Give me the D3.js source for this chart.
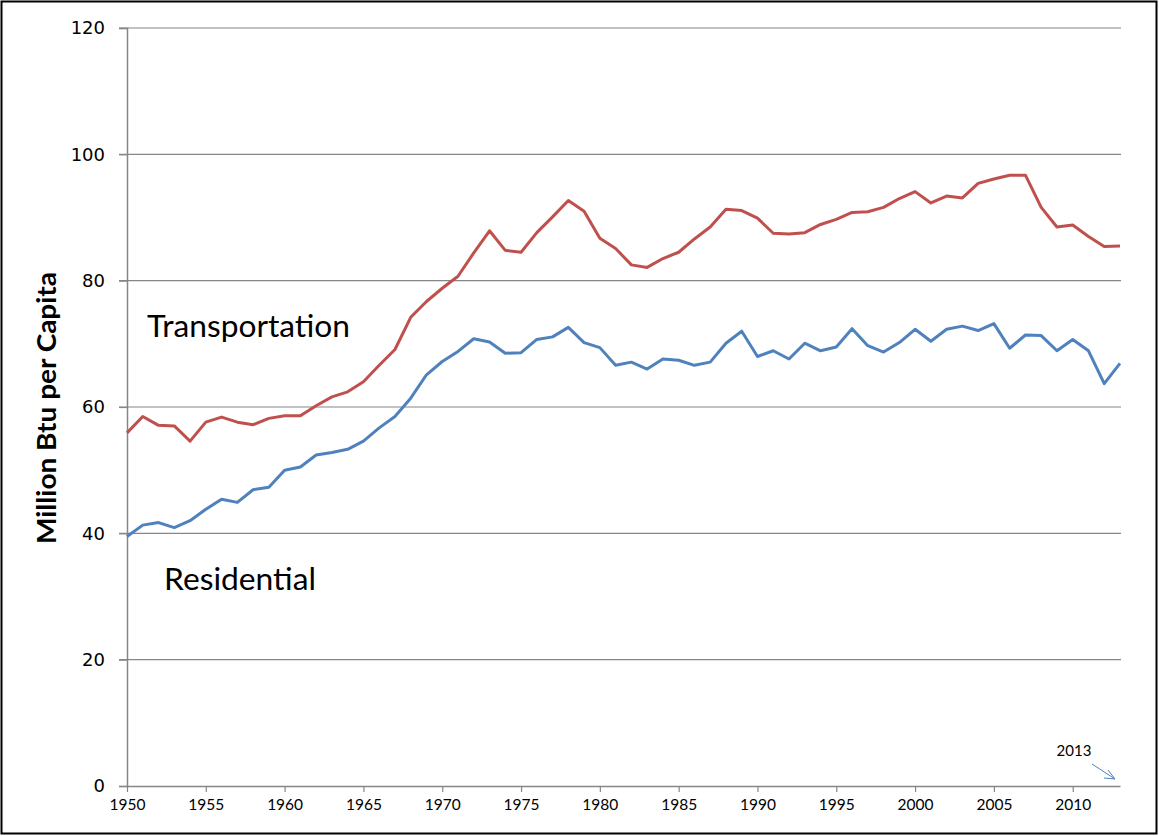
<!DOCTYPE html>
<html>
<head>
<meta charset="utf-8">
<script src="https://cdn.jsdelivr.net/npm/d3@7"></script>
<style>
  html, body { margin: 0; padding: 0; background: #fff; }
  svg { display: block; }
</style>
</head>
<body>
<svg id="chart" width="1159" height="836"></svg>
<script>
const years = d3.range(1950, 2014);
const transportation = [
  55.9, 58.5, 57.1, 57.0, 54.6, 57.6, 58.4, 57.6, 57.2, 58.2,
  58.6, 58.6, 60.2, 61.6, 62.4, 64.0, 66.6, 69.1, 74.2, 76.7,
  78.8, 80.7, 84.4, 87.9, 84.8, 84.5, 87.6, 90.1, 92.7, 91.0,
  86.7, 85.1, 82.5, 82.1, 83.5, 84.5, 86.6, 88.5, 91.3, 91.1,
  89.9, 87.5, 87.4, 87.6, 88.9, 89.7, 90.8, 90.9, 91.6, 93.0,
  94.1, 92.3, 93.4, 93.1, 95.4, 96.1, 96.7, 96.7, 91.6, 88.5,
  88.8, 87.0, 85.4, 85.5
];
const residential = [
  39.5, 41.3, 41.7, 40.9, 42.0, 43.8, 45.4, 44.9, 46.9, 47.3,
  50.0, 50.5, 52.4, 52.8, 53.3, 54.6, 56.7, 58.5, 61.4, 65.1,
  67.2, 68.8, 70.8, 70.3, 68.5, 68.6, 70.7, 71.1, 72.6, 70.2,
  69.4, 66.6, 67.1, 66.0, 67.6, 67.4, 66.6, 67.1, 70.1, 72.0,
  68.0, 68.9, 67.6, 70.1, 68.9, 69.5, 72.4, 69.7, 68.7, 70.2,
  72.3, 70.4, 72.3, 72.8, 72.1, 73.2, 69.3, 71.4, 71.3, 68.9,
  70.7, 68.9, 63.7, 66.9
];
const yTicks = [0, 20, 40, 60, 80, 100, 120];
const xTicks = [1950, 1955, 1960, 1965, 1970, 1975, 1980, 1985, 1990, 1995, 2000, 2005, 2010];
const seriesNames = ["Transportation", "Residential"];
const yTitle = "Million Btu per Capita";
const endLabel = "2013";

const svg = d3.select("#chart");
const mLeft = 127, mRight = 1120, mTop = 28, mBottom = 786;

const x = d3.scaleLinear().domain([1950, 2013]).range([mLeft, mRight]);
const y = d3.scaleLinear().domain([0, 120]).range([mBottom, mTop]);

// outer frame
svg.append("rect").attr("x", 1.5).attr("y", 1.5).attr("width", 1155).attr("height", 832)
  .attr("fill", "none").attr("stroke", "#000").attr("stroke-width", 2);

// gridlines
svg.append("g").selectAll("line").data(yTicks.filter(d => d > 0)).join("line")
  .attr("x1", mLeft - 8).attr("x2", mRight + 1)
  .attr("y1", d => y(d)).attr("y2", d => y(d))
  .attr("stroke", "#868686").attr("stroke-width", 1.2);

// y axis
const yAxis = d3.axisLeft(y).tickValues(yTicks).tickSize(8).tickPadding(14);
const gy = svg.append("g").attr("transform", `translate(${mLeft},0)`).call(yAxis);
gy.select(".domain").attr("stroke", "#868686").attr("stroke-width", 1.5);
gy.selectAll(".tick line").attr("stroke", "#868686").attr("stroke-width", 1.2);
gy.selectAll(".tick text").attr("font-family", "DejaVu Sans, Verdana, sans-serif")
  .attr("font-size", 18).attr("fill", "#000");

// x axis
const xAxis = d3.axisBottom(x).tickValues(xTicks).tickFormat(d3.format("d")).tickSize(6).tickPadding(7).tickSizeOuter(0);
const gx = svg.append("g").attr("transform", `translate(0,${mBottom})`).call(xAxis);
gx.select(".domain").attr("stroke", "#868686").attr("stroke-width", 1.5);
gx.selectAll(".tick line").attr("stroke", "#868686").attr("stroke-width", 1.2);
gx.selectAll(".tick text").attr("font-family", "Lato, Carlito, sans-serif")
  .attr("font-size", 15.5).attr("fill", "#000");

// lines
const line = d3.line().x((d, i) => x(years[i])).y(d => y(d));
svg.append("path").datum(transportation).attr("d", line)
  .attr("fill", "none").attr("stroke", "#C0504D").attr("stroke-width", 3).attr("stroke-linejoin", "round");
svg.append("path").datum(residential).attr("d", line)
  .attr("fill", "none").attr("stroke", "#4F81BD").attr("stroke-width", 3).attr("stroke-linejoin", "round");

// series labels
svg.append("text").attr("x", 147).attr("y", 337).text(seriesNames[0])
  .attr("font-family", "Lato, Carlito, sans-serif").attr("font-size", 30).attr("fill", "#000")
  .attr("textLength", 203).attr("lengthAdjust", "spacingAndGlyphs");
svg.append("text").attr("x", 164).attr("y", 590).text(seriesNames[1])
  .attr("font-family", "Lato, Carlito, sans-serif").attr("font-size", 30).attr("fill", "#000")
  .attr("textLength", 152).attr("lengthAdjust", "spacingAndGlyphs");

// y title
svg.append("text")
  .attr("transform", `translate(56,408) rotate(-90)`)
  .attr("text-anchor", "middle").text(yTitle)
  .attr("font-family", "Lato, Carlito, sans-serif").attr("font-weight", "bold")
  .attr("font-size", 26).attr("fill", "#000")
  .attr("textLength", 272).attr("lengthAdjust", "spacingAndGlyphs");

// 2013 annotation
svg.append("text").attr("x", 1074).attr("y", 756).attr("text-anchor", "middle").text(endLabel)
  .attr("font-family", "Lato, Carlito, sans-serif").attr("font-size", 15).attr("fill", "#000");
const ax0 = 1092, ay0 = 764, ax1 = x(2013) - 5, ay1 = 779;
svg.append("line").attr("x1", ax0).attr("y1", ay0).attr("x2", ax1).attr("y2", ay1)
  .attr("stroke", "#4F81BD").attr("stroke-width", 1);
svg.append("path").attr("d", `M${ax1 - 7},${ay1 - 9} L${ax1},${ay1} L${ax1 - 11},${ay1 - 1}`)
  .attr("fill", "none").attr("stroke", "#4F81BD").attr("stroke-width", 1);
</script>
</body>
</html>
